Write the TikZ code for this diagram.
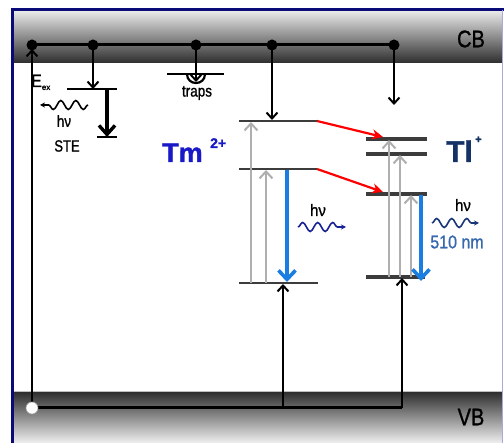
\documentclass[tikz,border=0pt]{standalone}
\usepackage{fontspec}
\setmainfont{Liberation Sans}
\newfontfamily\heavysans[FakeBold=1.2]{Liberation Sans}
\usetikzlibrary{arrows.meta,decorations.pathmorphing}
\definecolor{framenavy}{RGB}{10,10,120}
\definecolor{framelav}{RGB}{170,170,215}
\definecolor{lvlgray}{RGB}{60,60,60}
\definecolor{grayarr}{RGB}{175,175,175}
\definecolor{bluearr}{RGB}{25,125,225}
\definecolor{tmblue}{RGB}{25,25,200}
\definecolor{tlnavy}{RGB}{20,50,100}
\definecolor{wavetm}{RGB}{25,35,150}
\definecolor{wavetl}{RGB}{25,55,120}
\definecolor{nmblue}{RGB}{55,105,175}
\newcommand{\talltxt}[2]{\scalebox{1}[#1]{#2}}
\begin{document}
\begin{tikzpicture}[x=1pt,y=-1pt,
  blackarr/.style={line width=2pt,-{Straight Barb[length=6pt,width=11pt,line width=2pt]}},
  thickarr/.style={line width=3.4pt,-{Straight Barb[length=9pt,width=16pt,line width=3.4pt]}},
  grayup/.style={grayarr,line width=2.2pt,-{Straight Barb[length=7pt,width=13pt,line width=2pt]}},
  bluedown/.style={bluearr,line width=3.8pt,-{Straight Barb[length=9pt,width=17pt,line width=3.6pt]}},
  redarr/.style={red,line width=2.2pt,-{Stealth[length=11pt,width=10pt]}},
  tmlevel/.style={lvlgray,line width=2.6pt},
  tllevel/.style={lvlgray,line width=4pt},
  wave/.style={line width=1.6pt,decorate,decoration={snake,amplitude=4.5pt,segment length=15pt,post length=4pt},-{Stealth[length=5pt,width=5pt]}},
  lbl/.style={inner sep=0pt,font=\heavysans}]
\useasboundingbox (0,0) rectangle (504,443);
\fill[white] (0,0) rectangle (504,443);
% bands
\shade[top color=black!10, bottom color=black!82] (13,12) rectangle (502,63);
\shade[top color=black!82, bottom color=black!6] (13,392) rectangle (502,443);
\draw[black!25,line width=0.6pt] (13,391.5) -- (502,391.5);
% frame
\draw[framenavy,line width=3pt] (12,443) -- (12,10) -- (504,10);
\draw[framelav,line width=1pt] (502,10) -- (502,443);
% band labels
\node[lbl] (cb) at (471,39) {\fontsize{20}{20}\selectfont\talltxt{1.2}{CB}};
\node[lbl] (vb) at (471,417) {\fontsize{20}{20}\selectfont\talltxt{1.2}{VB}};
% CB dots
\coordinate (c1) at (32,45);
\coordinate (c2) at (93,45);
\coordinate (c3) at (196,45);
\coordinate (c4) at (272,45);
\coordinate (c5) at (394,45);
\draw[line width=3pt] (c1) -- (c5);
\foreach \c in {c1,c2,c3,c4,c5} \fill (\c) circle (5.5);
% VB
\coordinate (v0) at (32,408);
\coordinate (vm) at (283,408);
\coordinate (vt) at (402,408);
\draw[line width=3pt] (v0) -- (vt);
% left vertical
\draw[blackarr,shorten >=4pt] (v0) -- (c1);
\fill[white,draw=black!35,line width=0.6pt] (v0) circle (6);
% STE
\coordinate (eexL) at (67,89);
\coordinate (eexR) at (117,89);
\coordinate (eexA) at (93,89);
\coordinate (eexB) at (107,89);
\coordinate (steL) at (97,137);
\coordinate (steR) at (117,137);
\coordinate (steB) at (107,137);
\draw[line width=2.4pt] (eexL) -- (eexR);
\draw[line width=2.4pt] (steL) -- (steR);
\draw[blackarr] (c2) -- (eexA);
\draw[thickarr] (eexB) -- (steB);
\coordinate (w1s) at (88,105);
\coordinate (w1e) at (40,105);
\draw[wave,black] (w1s) -- (w1e);
\node[lbl,anchor=base west] (eex) at (31,87) {\fontsize{16}{16}\selectfont\talltxt{1.12}{E}\raisebox{-3pt}{\fontsize{8}{8}\selectfont ex}};
\node[lbl] (hv1) at (64,121) {\fontsize{13.5}{13.5}\selectfont\talltxt{1.2}{hν}};
\node[lbl] (ste) at (67,146) {\fontsize{13}{13}\selectfont\talltxt{1.25}{STE}};
% traps
\coordinate (trL) at (167,74);
\coordinate (trR) at (224,74);
\coordinate (trA) at (196,82);
\draw[line width=2.4pt] (trL) -- (trR);
\draw[line width=2.2pt] (187,74) .. controls (187,86) and (205,86) .. (205,74);
\draw[blackarr] (c3) -- (trA);
\node[lbl] (traps) at (197,93) {\fontsize{13.5}{13.5}\selectfont\talltxt{1.2}{traps}};
% Tm levels
\coordinate (tmUL) at (239,121); \coordinate (tmUR) at (317,121);
\coordinate (tmML) at (239,169); \coordinate (tmMR) at (317,169);
\coordinate (tmGL) at (239,283); \coordinate (tmGR) at (318,283);
\draw[tmlevel] (tmUL) -- (tmUR);
\draw[tmlevel] (tmML) -- (tmMR);
\draw[tmlevel] (tmGL) -- (tmGR);
\draw[blackarr] (c4) -- (272,120);
\draw[grayup] (251,283) -- (251,122);
\draw[grayup] (266,283) -- (266,170);
\draw[bluedown] (287,170) -- (287,282);
\draw[blackarr] (vm) -- (283,284);
% Tl levels
\coordinate (tl1L) at (366,139); \coordinate (tl1R) at (427,139);
\coordinate (tl2L) at (366,154); \coordinate (tl2R) at (427,154);
\coordinate (tl3L) at (366,194); \coordinate (tl3R) at (427,194);
\coordinate (tl4L) at (366,277); \coordinate (tl4R) at (425,277);
\draw[tllevel] (tl1L) -- (tl1R);
\draw[tllevel] (tl2L) -- (tl2R);
\draw[tllevel] (tl3L) -- (tl3R);
\draw[tllevel] (tl4L) -- (tl4R);
\draw[blackarr] (c5) -- (394,105);
\draw[grayup] (389,277) -- (389,140);
\draw[grayup] (400,277) -- (400,155);
\draw[grayup] (411,277) -- (411,195);
\draw[bluedown] (421,195) -- (421,281);
\draw[blackarr] (vt) -- (402,278);
% red transfer arrows
\draw[redarr] (tmUR) -- (383,137);
\draw[redarr] (tmMR) -- (383,192);
% ion labels
\node[lbl,anchor=base west,text=tmblue] (tm) at (162,162) {\bfseries\fontsize{27}{27}\selectfont Tm};
\node[lbl,anchor=base west,text=tmblue] (tmsup) at (210,148) {\bfseries\fontsize{14}{14}\selectfont 2+};
\node[lbl,anchor=base west,text=tlnavy] (tl) at (446,162) {\bfseries\fontsize{30}{30}\selectfont Tl};
\node[lbl,anchor=base west,text=tlnavy] (tlsup) at (475,143) {\bfseries\fontsize{11}{11}\selectfont +};
% emission labels
\node[lbl] (hv2) at (318,210) {\fontsize{15}{15}\selectfont\talltxt{1.1}{hν}};
\draw[wave,wavetm] (298,227) -- (346,227);
\node[lbl] (hv3) at (463,205) {\fontsize{15}{15}\selectfont\talltxt{1.1}{hν}};
\draw[wave,wavetl] (432,223) -- (479,223);
\node[lbl,text=nmblue] (nm) at (457,242) {\fontsize{16}{16}\selectfont\talltxt{1.15}{510 nm}};
\end{tikzpicture}
\end{document}
